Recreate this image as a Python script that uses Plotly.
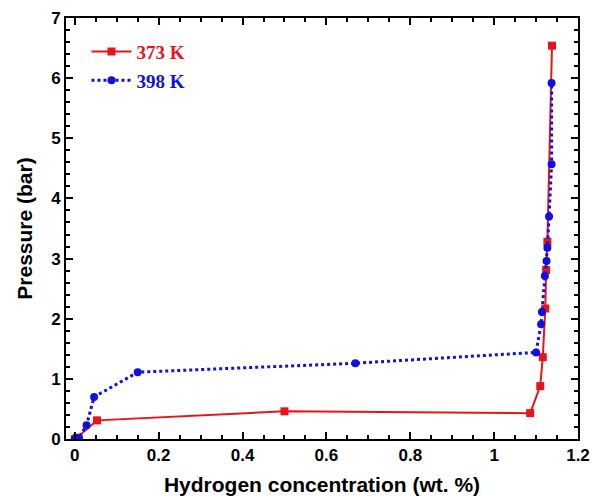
import plotly.graph_objects as go

# 373 K series
x_373 = [0.0, 0.005, 0.053, 0.50, 1.086, 1.110, 1.116, 1.122, 1.124, 1.127, 1.138]
y_373 = [0.0, 0.02, 0.31, 0.46, 0.43, 0.88, 1.36, 2.17, 2.81, 3.28, 6.54]

# 398 K series
x_398 = [0.0, 0.010, 0.028, 0.046, 0.150, 0.669, 1.100, 1.112, 1.114, 1.121, 1.125, 1.127, 1.131, 1.137, 1.137]
y_398 = [0.0, 0.02, 0.23, 0.70, 1.11, 1.26, 1.44, 1.91, 2.11, 2.71, 2.96, 3.18, 3.70, 4.57, 5.92]

name_373 = "373 K"
name_398 = "398 K"

fig = go.Figure()
fig.add_trace(go.Scatter(
    x=x_373, y=y_373, mode="lines+markers",
    name="<span style='color:#e8141a'><b>%s</b></span>" % name_373,
    legendgroup="a",
    line=dict(color="#e8141a", width=2),
    marker=dict(symbol="square", size=8, color="#e8141a"),
))
fig.add_trace(go.Scatter(
    x=x_398, y=y_398, mode="lines+markers",
    name="<span style='color:#1010e0'><b>%s</b></span>" % name_398,
    legendgroup="b",
    line=dict(color="#1010e0", width=3, dash="dot"),
    marker=dict(symbol="circle", size=8, color="#1010e0"),
))

axis_common = dict(
    showline=True, linecolor="black", linewidth=2, mirror="ticks",
    ticks="inside", ticklen=7, tickwidth=2, tickcolor="black",
    showgrid=False, zeroline=False, automargin=False,
    tickfont=dict(family="Liberation Sans, Arial", size=17, color="black", weight="bold"),
)

title_font = dict(family="Liberation Sans, Arial", size=21, color="black", weight="bold")

fig.update_xaxes(
    range=[-0.021, 1.2], tick0=0, dtick=0.2,
    minor=dict(dtick=0.05, ticks="inside", ticklen=4, tickwidth=1.5, tickcolor="black"),
    title=dict(text="Hydrogen concentration (wt. %)", standoff=14, font=title_font),
    **axis_common,
)
fig.update_yaxes(
    range=[0, 7], tick0=0, dtick=1,
    minor=dict(dtick=0.2, ticks="inside", ticklen=4, tickwidth=1.5, tickcolor="black"),
    title=dict(text="Pressure (bar)", standoff=13, font=title_font),
    **axis_common,
)

fig.update_layout(
    width=600, height=496,
    margin=dict(l=66, r=22, t=18, b=57),
    paper_bgcolor="white", plot_bgcolor="white",
    legend=dict(x=0.04, y=0.965, xanchor="left", yanchor="top",
                bgcolor="rgba(0,0,0,0)", tracegroupgap=1, itemwidth=40,
                font=dict(family="Liberation Serif, Times New Roman", size=19)),
    showlegend=True,
)

fig.write_html("out.html", config={"displayModeBar": False},
               post_script="document.body.style.margin='0';document.body.style.overflow='hidden';")
